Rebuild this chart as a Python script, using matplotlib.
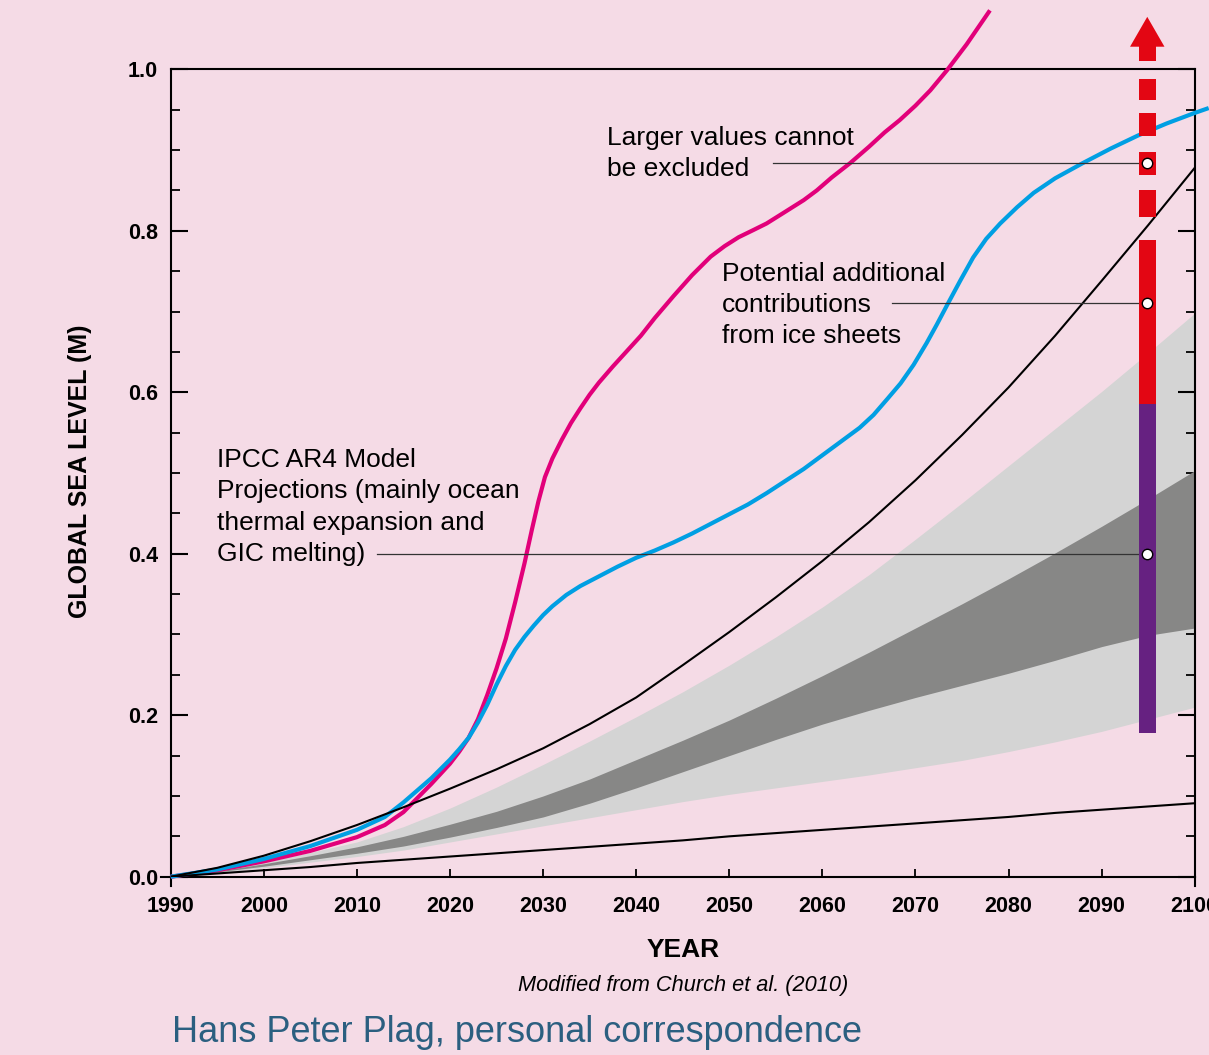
import matplotlib
matplotlib.use('Agg')
import matplotlib.pyplot as plt
import numpy as np

plt.rcParams['font.family'] = ['Liberation Sans', 'DejaVu Sans']

### DATA

# upper pink/magenta projection
mag_years = [1990, 1995, 2000, 2005, 2010, 2013, 2015, 2018, 2020, 2021, 2022, 2023, 2024,
             2025, 2026, 2027, 2028, 2028.8, 2029.5, 2030.2, 2031, 2032, 2033, 2034, 2035,
             2036, 2037.5, 2039, 2040.5, 2042, 2044, 2046, 2048, 2049.5, 2051, 2052.6, 2054,
             2055.8, 2058, 2059.4, 2061, 2063, 2065, 2066.7, 2068.3, 2070, 2071.6, 2073.4,
             2075.5, 2078]
mag_vals = [0.000, 0.008, 0.019, 0.032, 0.049, 0.064, 0.080, 0.115, 0.140, 0.155, 0.172, 0.195,
            0.225, 0.258, 0.295, 0.340, 0.388, 0.430, 0.465, 0.495, 0.518, 0.541, 0.562, 0.580,
            0.597, 0.612, 0.632, 0.651, 0.670, 0.692, 0.719, 0.745, 0.768, 0.781, 0.792, 0.801,
            0.809, 0.822, 0.838, 0.850, 0.866, 0.884, 0.904, 0.922, 0.937, 0.955, 0.974, 0.999,
            1.031, 1.073]

# blue projection
blue_years = [1990, 1995, 2000, 2005, 2010, 2013, 2015, 2018, 2020, 2021, 2022, 2023, 2024,
              2025, 2026, 2027, 2028, 2029, 2030, 2031, 2032.5, 2034, 2036, 2038, 2040, 2042,
              2044, 2046, 2048, 2050, 2052, 2054, 2056, 2058, 2060, 2062, 2064, 2065.5, 2067,
              2068.4, 2069.8, 2071.2, 2072.3, 2073.4, 2074.8, 2076.2, 2077.6, 2079.1, 2080.9,
              2082.7, 2085, 2088, 2091, 2093.9, 2097, 2100, 2101.5]
blue_vals = [0.000, 0.009, 0.022, 0.038, 0.058, 0.074, 0.092, 0.122, 0.145, 0.158, 0.172, 0.191,
             0.213, 0.238, 0.261, 0.281, 0.297, 0.311, 0.324, 0.335, 0.349, 0.360, 0.372, 0.384,
             0.395, 0.404, 0.414, 0.425, 0.437, 0.449, 0.461, 0.475, 0.490, 0.505, 0.522, 0.539,
             0.556, 0.572, 0.592, 0.611, 0.634, 0.661, 0.684, 0.708, 0.738, 0.767, 0.790, 0.809,
             0.829, 0.847, 0.865, 0.884, 0.902, 0.918, 0.933, 0.946, 0.952]

# black curves and IPCC AR4 bands, every 5 years
yrs = [1990, 1995, 2000, 2005, 2010, 2015, 2020, 2025, 2030, 2035, 2040, 2045, 2050,
       2055, 2060, 2065, 2070, 2075, 2080, 2085, 2090, 2095, 2100]
blk_upper = [0.000, 0.011, 0.026, 0.044, 0.064, 0.086, 0.109, 0.133, 0.159, 0.189, 0.222, 0.262,
             0.303, 0.346, 0.391, 0.439, 0.491, 0.547, 0.606, 0.670, 0.738, 0.807, 0.878]
blk_lower = [0.000, 0.004, 0.008, 0.012, 0.017, 0.021, 0.025, 0.029, 0.033, 0.037, 0.041, 0.045,
             0.050, 0.054, 0.058, 0.062, 0.066, 0.070, 0.074, 0.079, 0.083, 0.087, 0.091]
light_top = [0.000, 0.008, 0.018, 0.030, 0.043, 0.062, 0.085, 0.111, 0.139, 0.168, 0.198, 0.229,
             0.262, 0.297, 0.334, 0.374, 0.418, 0.463, 0.509, 0.555, 0.601, 0.649, 0.698]
dark_top = [0.000, 0.007, 0.016, 0.026, 0.037, 0.050, 0.065, 0.081, 0.100, 0.121, 0.145, 0.169,
            0.194, 0.221, 0.249, 0.278, 0.308, 0.338, 0.369, 0.401, 0.434, 0.468, 0.503]
dark_bot = [0.000, 0.006, 0.013, 0.021, 0.029, 0.038, 0.049, 0.061, 0.074, 0.091, 0.110, 0.130,
            0.150, 0.170, 0.189, 0.206, 0.222, 0.237, 0.252, 0.268, 0.285, 0.299, 0.308]
light_bot = [0.000, 0.005, 0.011, 0.018, 0.025, 0.033, 0.043, 0.053, 0.063, 0.073, 0.083, 0.093,
             0.102, 0.110, 0.118, 0.126, 0.135, 0.144, 0.155, 0.167, 0.180, 0.195, 0.210]

# range bar at 2095
bar_x = 2094.9
purple_range = (0.178, 0.586)
red_range = (0.586, 0.788)
red_dashes = [(0.817, 0.851), (0.869, 0.897), (0.917, 0.946), (0.962, 0.988)]
arrow_range = (1.010, 1.065)

# annotations
notes = ['Larger values cannot\nbe excluded',
         'Potential additional\ncontributions\nfrom ice sheets',
         'IPCC AR4 Model\nProjections (mainly ocean\nthermal expansion and\nGIC melting)']
note_xy = [(2036.9, 0.896), (2049.2, 0.708), (1995.0, 0.458)]
marker_vals = [0.884, 0.710, 0.400]
leader_start = [2054.7, 2067.5, 2012.2]

### PLOT

bg = '#f5dbe6'
fig = plt.figure(figsize=(12.09, 10.55), dpi=100, facecolor=bg)
ax = fig.add_axes([0.1412, 0.1690, 0.8470, 0.7653])
ax.set_facecolor(bg)

ax.fill_between(yrs, light_bot, light_top, color='#d4d4d4', lw=0, zorder=1)
ax.fill_between(yrs, dark_bot, dark_top, color='#878786', lw=0, zorder=2)

ax.plot(mag_years, mag_vals, color='#e2007a', lw=3.0, clip_on=False, zorder=4,
        solid_capstyle='butt', solid_joinstyle='round')
ax.plot(blue_years, blue_vals, color='#009fe3', lw=3.0, clip_on=False, zorder=5,
        solid_capstyle='butt', solid_joinstyle='round')
ax.plot(yrs, blk_upper, color='black', lw=1.5, zorder=6, solid_joinstyle='round')
ax.plot(yrs, blk_lower, color='black', lw=1.5, zorder=6)

# leader lines
for i in range(3):
    ax.plot([leader_start[i], bar_x], [marker_vals[i], marker_vals[i]],
            color='#333333', lw=0.9, zorder=7)

# vertical bar
bw = 1.85
ax.bar(bar_x, purple_range[1]-purple_range[0], bw, bottom=purple_range[0],
       color='#662181', zorder=8)
ax.bar(bar_x, red_range[1]-red_range[0], bw, bottom=red_range[0],
       color='#e30613', zorder=8)
for lo, hi in red_dashes:
    ax.bar(bar_x, hi-lo, bw, bottom=lo, color='#e30613', zorder=8, clip_on=False)
ax.bar(bar_x, 0.02, bw, bottom=arrow_range[0], color='#e30613', zorder=8, clip_on=False)
ax.fill([bar_x-1.85, bar_x+1.85, bar_x], [1.028, 1.028, arrow_range[1]],
        color='#e30613', lw=0, zorder=8, clip_on=False)

ax.plot([bar_x]*3, marker_vals, 'o', ms=7.5, mfc='white', mec='black', mew=1.0,
        zorder=9)

for i in range(3):
    ax.text(note_xy[i][0], note_xy[i][1], notes[i], fontsize=19, ha='left', va='center',
            linespacing=1.39, zorder=10)

ax.set_xlim(1990, 2100)
ax.set_ylim(0, 1.0)
ax.set_xticks(range(1990, 2101, 10))
ax.set_yticks([0.0, 0.2, 0.4, 0.6, 0.8, 1.0])
ax.set_yticklabels(['0.0', '0.2', '0.4', '0.6', '0.8', '1.0'])
ax.set_yticks(np.arange(0, 1.001, 0.05), minor=True)
ax.tick_params(axis='y', which='major', direction='in', length=12, width=1.5,
               left=True, right=True, labelsize=15.5, pad=9)
ax.tick_params(axis='y', which='minor', direction='in', length=6.5, width=1.3,
               left=True, right=True)
ax.tick_params(axis='x', which='major', direction='in', length=5.5, width=1.3,
               labelsize=15.5, pad=14)
for lab in ax.get_xticklabels() + ax.get_yticklabels():
    lab.set_fontweight('bold')
for s in ax.spines.values():
    s.set_linewidth(1.5)

# small corner overhangs
ax.plot([1990, 1990], [0, -0.011], color='black', lw=1.5, clip_on=False)
ax.plot([2100, 2100], [0, -0.011], color='black', lw=1.5, clip_on=False)
ax.plot([1990, 1989], [0, 0], color='black', lw=1.5, clip_on=False)

fig.text(80/1209, 1-471/1055, 'GLOBAL SEA LEVEL (M)', rotation=90, fontsize=18,
         fontweight='bold', ha='center', va='center')
fig.text(683/1209, 1-950/1055, 'YEAR', fontsize=19, fontweight='bold',
         ha='center', va='center')
fig.text(683/1209, 1-986/1055, 'Modified from Church et al. (2010)', fontsize=15.7,
         style='italic', ha='center', va='center')
fig.text(172/1209, 1-1033/1055, 'Hans Peter Plag, personal correspondence',
         fontsize=26, color='#2b5f80', ha='left', va='center')

fig.savefig('out.png', dpi=100, facecolor=bg)
